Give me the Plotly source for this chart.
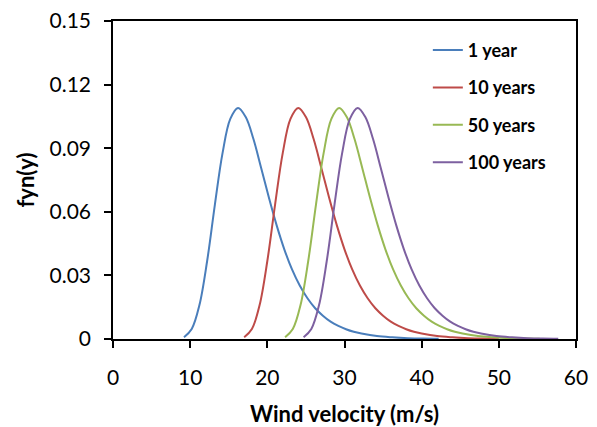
import plotly.graph_objects as go

# Values (wind velocity in m/s, density fyn(y))
x_1yr = [9.2, 10.2, 11.2, 12.2, 13.2, 14.2, 15.2, 16.2, 17.2, 18.2, 19.2, 20.2, 21.2, 22.2, 23.2,
         24.2, 25.2, 26.2, 27.2, 28.2, 29.2, 30.2, 31.2, 32.2, 34.2, 36.2, 38.2, 40.2, 42.2]
x_10yr = [17.0, 18.0, 19.0, 20.0, 21.0, 22.0, 23.0, 24.0, 25.0, 26.0, 27.0, 28.0, 29.0, 30.0, 31.0,
          32.0, 33.0, 34.0, 35.0, 36.0, 37.0, 38.0, 39.0, 40.0, 42.0, 44.0, 46.0, 48.0, 50.0]
x_50yr = [22.3, 23.3, 24.3, 25.3, 26.3, 27.3, 28.3, 29.3, 30.3, 31.3, 32.3, 33.3, 34.3, 35.3, 36.3,
          37.3, 38.3, 39.3, 40.3, 41.3, 42.3, 43.3, 44.3, 45.3, 47.3, 49.3, 51.3, 53.3, 55.3]
x_100yr = [24.7, 25.7, 26.7, 27.7, 28.7, 29.7, 30.7, 31.7, 32.7, 33.7, 34.7, 35.7, 36.7, 37.7, 38.7,
           39.7, 40.7, 41.7, 42.7, 43.7, 44.7, 45.7, 46.7, 47.7, 49.7, 51.7, 53.7, 55.7, 57.7]

y_1yr = [0.0008, 0.0047, 0.0160, 0.0368, 0.0633, 0.0878, 0.1038, 0.1090, 0.1047, 0.0943, 0.0807,
         0.0667, 0.0537, 0.0423, 0.0328, 0.0252, 0.0192, 0.0145, 0.0110, 0.0082, 0.0062, 0.0046,
         0.0034, 0.0026, 0.0014, 0.0008, 0.0004, 0.0002, 0.0001]
y_10yr = [0.0008, 0.0047, 0.0160, 0.0368, 0.0633, 0.0878, 0.1038, 0.1090, 0.1047, 0.0943, 0.0807,
          0.0667, 0.0537, 0.0423, 0.0328, 0.0252, 0.0192, 0.0145, 0.0110, 0.0082, 0.0062, 0.0046,
          0.0034, 0.0026, 0.0014, 0.0008, 0.0004, 0.0002, 0.0001]
y_50yr = [0.0008, 0.0047, 0.0160, 0.0368, 0.0633, 0.0878, 0.1038, 0.1090, 0.1047, 0.0943, 0.0807,
          0.0667, 0.0537, 0.0423, 0.0328, 0.0252, 0.0192, 0.0145, 0.0110, 0.0082, 0.0062, 0.0046,
          0.0034, 0.0026, 0.0014, 0.0008, 0.0004, 0.0002, 0.0001]
y_100yr = [0.0008, 0.0047, 0.0160, 0.0368, 0.0633, 0.0878, 0.1038, 0.1090, 0.1047, 0.0943, 0.0807,
           0.0667, 0.0537, 0.0423, 0.0328, 0.0252, 0.0192, 0.0145, 0.0110, 0.0082, 0.0062, 0.0046,
           0.0034, 0.0026, 0.0014, 0.0008, 0.0004, 0.0002, 0.0001]

series_names = ["1 year", "10 years", "50 years", "100 years"]
series_colors = ["#4a7ebb", "#be4b48", "#98b954", "#7d60a0"]

y_tickvals = [0, 0.03, 0.06, 0.09, 0.12, 0.15]
y_ticktext = ["0", "0.03", "0.06", "0.09", "0.12", "0.15"]
x_tickvals = [0, 10, 20, 30, 40, 50, 60]

FONT = "Lato, 'Open Sans', Arial, sans-serif"

fig = go.Figure()
for name, color, xs, ys in zip(series_names, series_colors,
                               [x_1yr, x_10yr, x_50yr, x_100yr],
                               [y_1yr, y_10yr, y_50yr, y_100yr]):
    fig.add_trace(go.Scatter(x=xs, y=ys, mode="lines", name=name, legendgroup=name,
                             line=dict(color=color, width=2, shape="spline", smoothing=1.0)))

fig.update_layout(
    width=597, height=427,
    margin=dict(l=113, r=21, t=21, b=88),
    paper_bgcolor="white", plot_bgcolor="white",
    font=dict(family=FONT, color="black"),
    showlegend=True,
    legend=dict(x=0.68, y=0.966, xanchor="left", yanchor="top",
                font=dict(size=18, family=FONT, color="black", weight="bold"),
                tracegroupgap=11, bgcolor="rgba(0,0,0,0)", borderwidth=0),
    xaxis=dict(range=[0, 60], tickvals=x_tickvals, showgrid=False, zeroline=False,
               showline=True, linecolor="black", linewidth=1.5, mirror=True, automargin=False,
               ticks="outside", ticklen=7, tickwidth=1.5, tickcolor="black",
               tickfont=dict(size=21, family=FONT), ticklabelstandoff=12,
               title=dict(text="Wind velocity (m/s)", font=dict(size=22, family=FONT, weight="bold"),
                          standoff=23)),
    yaxis=dict(range=[0, 0.15], tickvals=y_tickvals, ticktext=y_ticktext, showgrid=False,
               zeroline=False, showline=True, linecolor="black", linewidth=1.5, mirror=True,
               automargin=False,
               ticks="outside", ticklen=7, tickwidth=1.5, tickcolor="black",
               tickfont=dict(size=21, family=FONT), ticklabelstandoff=9,
               title=dict(text="fyn(y)", font=dict(size=22, family=FONT, weight="bold"),
                          standoff=9)),
)

fig.write_html("out.html")
